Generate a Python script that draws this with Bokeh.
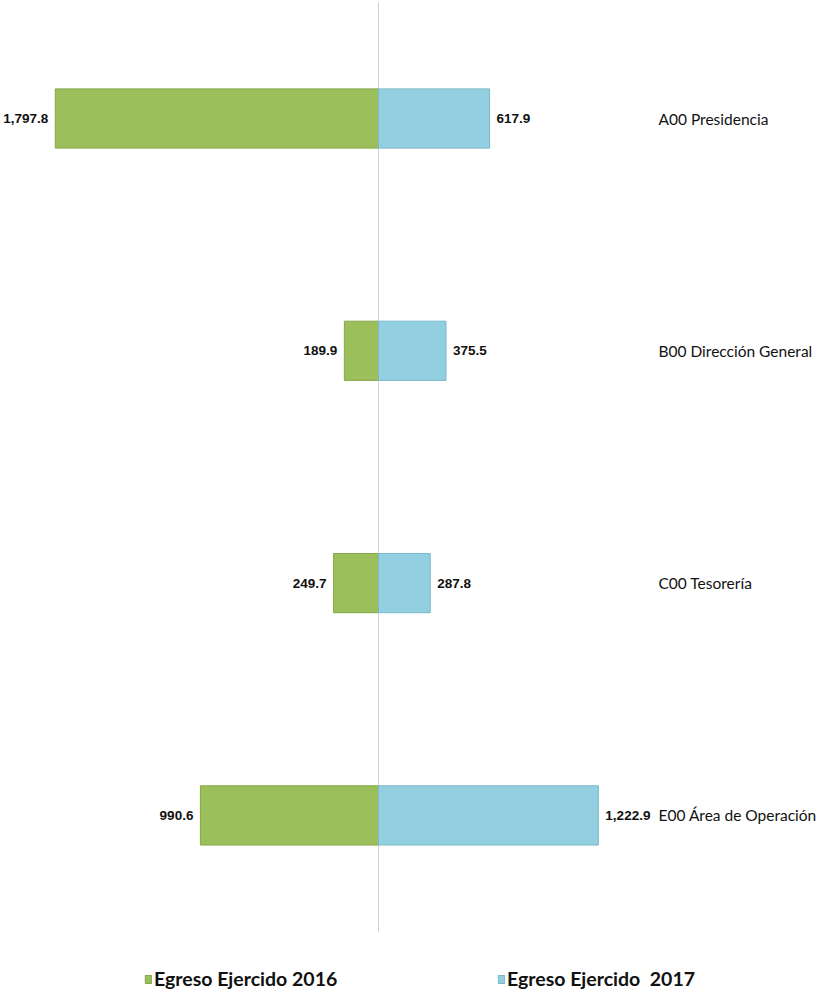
from bokeh.plotting import figure
from bokeh.models import ColumnDataSource, Range1d, Legend, LegendItem, LabelSet
from bokeh.core.properties import value
from bokeh.embed import file_html
from bokeh.resources import INLINE

# ---- data ----
categories = ["A00 Presidencia", "B00 Dirección General", "C00 Tesorería", "E00 Área de Operación"]
egreso_2016 = [1797.8, 189.9, 249.7, 990.6]
egreso_2017 = [617.9, 375.5, 287.8, 1222.9]
series_names = ["Egreso Ejercido 2016", "Egreso Ejercido  2017"]

GREEN = "#9BBF5A"
BLUE = "#92CFE0"
VAL_FONT = "Liberation Sans"
CAT_FONT = "Lato"

W, H = 817, 990
units_per_px = 5.562
zero_px = 378
x_start = -zero_px * units_per_px
x_end = (W - zero_px) * units_per_px
row_px = 232.3
first_px = 118
y_top = -first_px / row_px
y_bottom = (H - first_px) / row_px

idx = list(range(len(categories)))
src = ColumnDataSource(dict(
    y=idx,
    cat=categories,
    v16=egreso_2016,
    v17=egreso_2017,
    neg16=[-v for v in egreso_2016],
    zero=[0] * len(idx),
    t16=[f"{v:,.1f}" for v in egreso_2016],
    t17=[f"{v:,.1f}" for v in egreso_2017],
    catx=[(658 - zero_px) * units_per_px] * len(idx),
))

p = figure(width=W, height=H, output_backend="svg", toolbar_location=None,
           x_range=Range1d(x_start, x_end), y_range=Range1d(y_bottom, y_top),
           min_border=0, outline_line_color=None)
p.xaxis.visible = False
p.yaxis.visible = False
p.grid.visible = False
p.background_fill_color = "white"

# center line
p.segment(x0=[0], y0=[-0.5], x1=[0], y1=[len(categories) - 0.5],
          line_color="#d0d0d0", line_width=1)

r16 = p.hbar(y="y", left="neg16", right="zero", height=0.255, source=src,
             fill_color=GREEN, line_color="#86a64a", line_width=1)
r17 = p.hbar(y="y", left="zero", right="v17", height=0.255, source=src,
             fill_color=BLUE, line_color="#7cb8c8", line_width=1)

lab16 = LabelSet(x="neg16", y="y", text="t16", source=src, x_offset=-7,
                 text_align="right", text_baseline="middle",
                 text_font=value(VAL_FONT), text_font_style="bold",
                 text_font_size=value("13.5px"), text_color="#111111")
lab17 = LabelSet(x="v17", y="y", text="t17", source=src, x_offset=7,
                 text_align="left", text_baseline="middle",
                 text_font=value(VAL_FONT), text_font_style="bold",
                 text_font_size=value("13.5px"), text_color="#111111")
labcat = LabelSet(x="catx", y="y", text="cat", source=src,
                  text_align="left", text_baseline="middle",
                  text_font=value(CAT_FONT), text_font_size=value("15.5px"),
                  text_color="#111111")
p.add_layout(lab16)
p.add_layout(lab17)
p.add_layout(labcat)

for r, name, xloc in [(r16, series_names[0], 144), (r17, series_names[1], 497)]:
    lg = Legend(items=[LegendItem(label=name, renderers=[r])],
                location=(xloc, 0), orientation="horizontal",
                glyph_width=8, glyph_height=10, label_standoff=2,
                padding=0, margin=0, spacing=0,
                label_text_font=CAT_FONT, label_text_font_style="bold",
                label_text_font_size="19.5px", label_text_color="#111111",
                border_line_alpha=0, background_fill_alpha=0)
    p.add_layout(lg, "center")

open("out.html", "w").write(file_html(p, INLINE))
